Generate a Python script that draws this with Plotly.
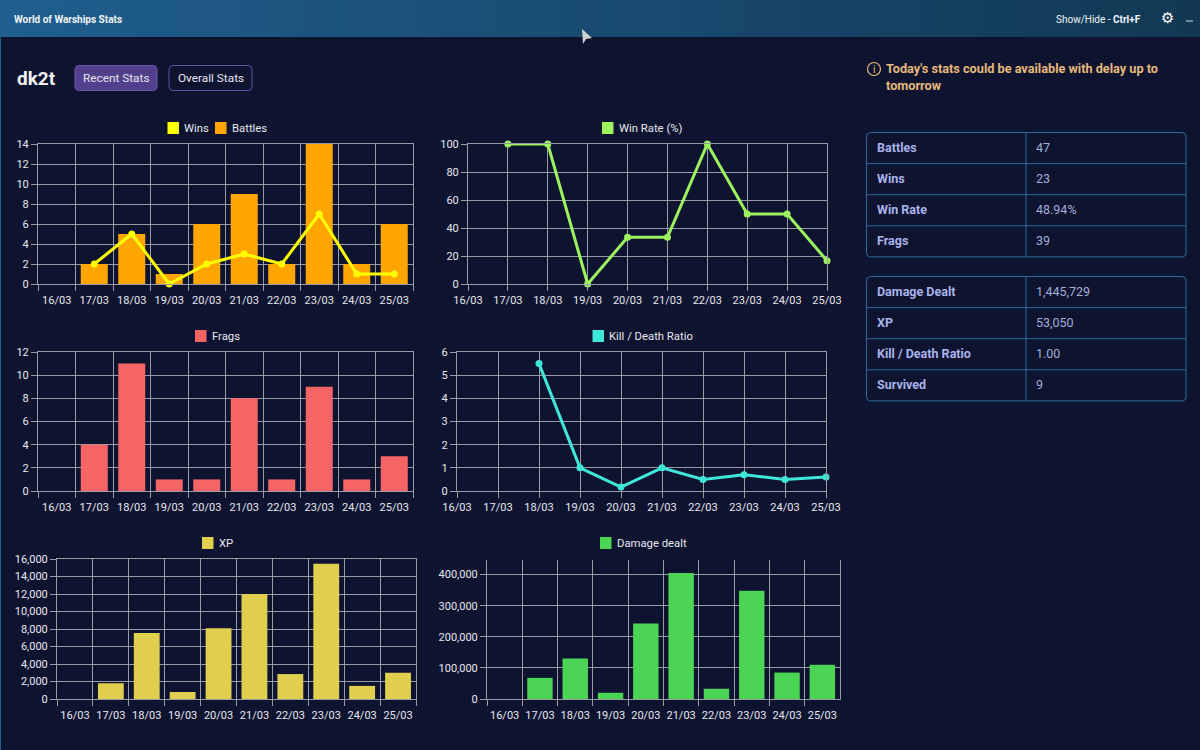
"""World of Warships stats dashboard, redrawn with Plotly."""
import plotly.graph_objects as go

days = ["16/03", "17/03", "18/03", "19/03", "20/03", "21/03", "22/03", "23/03", "24/03", "25/03"]
wins = [None, 2, 5, 0, 2, 3, 2, 7, 1, 1]
battles = [0, 2, 5, 1, 6, 9, 2, 14, 2, 6]
win_rate = [None, 100, 100, 0, 33.33, 33.33, 100, 50, 50, 16.67]
frags = [0, 4, 11, 1, 1, 8, 1, 9, 1, 3]
kd_ratio = [None, None, 5.5, 1, 0.17, 1, 0.5, 0.7, 0.5, 0.6]
xp = [0, 1800, 7550, 800, 8100, 12000, 2850, 15450, 1500, 3000]
damage = [0, 68000, 130000, 20000, 243000, 405000, 33000, 348000, 85000, 110000]

table_top = [("Battles", "47"), ("Wins", "23"), ("Win Rate", "48.94%"), ("Frags", "39")]
table_bottom = [("Damage Dealt", "1,445,729"), ("XP", "53,050"),
                ("Kill / Death Ratio", "1.00"), ("Survived", "9")]

BG = "#0e1330"
GRID = "#989aa4"
TICK_TEXT = "#e6e8ee"
UI_FONT = "Roboto, sans-serif"
TICK_SIZE = 11
W, H = 1200, 750

fig = go.Figure()
shapes = []
notes = []


def rounded(x0, y0, x1, y1, r):
    return (f"M{x0+r},{y0} L{x1-r},{y0} Q{x1},{y0} {x1},{y0+r} L{x1},{y1-r} Q{x1},{y1} {x1-r},{y1} "
            f"L{x0+r},{y1} Q{x0},{y1} {x0},{y1-r} L{x0},{y0+r} Q{x0},{y0} {x0+r},{y0} Z")


def add_shape(**kw):
    shapes.append(dict(xref="x7", yref="y7", layer="below", **kw))


def text(x, y, s, size=12, color=TICK_TEXT, anchor="left", family=UI_FONT):
    # annotations sit about 2px right of the given x because of their padding
    x = x - 2 if anchor == "left" else x
    notes.append(dict(xref="x7", yref="y7", x=x, y=y, text=s, showarrow=False, xanchor=anchor,
                      yanchor="middle", font=dict(size=size, color=color, family=family)))


def swatch(x, y, label, color):
    add_shape(type="rect", x0=x, x1=x + 11.5, y0=y - 6, y1=y + 6, fillcolor=color, line_width=0)
    text(x + 16.5, y, label, size=11.3)


def axes(n, box, y_range, dtick, x_range, fmt=None, top_line=True):
    x0, y0, x1, y1 = box
    on_bounds = x_range[0] < 0
    fig.update_layout({
        f"xaxis{n}": dict(
            domain=[x0 / W, x1 / W], anchor=f"y{n}", type="category", range=x_range,
            tickson="boundaries" if on_bounds else "labels", ticklabelstandoff=6 if on_bounds else 0,
            showgrid=True, gridcolor=GRID, gridwidth=1, ticks="outside", ticklen=6,
            tickcolor=GRID, tickfont=dict(size=TICK_SIZE, color=TICK_TEXT, family=UI_FONT),
            tickangle=0, zeroline=False, showline=True, linecolor=GRID, linewidth=1,
            mirror=top_line,
        ),
        f"yaxis{n}": dict(
            domain=[1 - y1 / H, 1 - y0 / H], anchor=f"x{n}", range=y_range, dtick=dtick,
            tick0=0, showgrid=True, gridcolor=GRID, gridwidth=1, ticks="outside", ticklen=6,
            tickcolor=GRID, tickfont=dict(size=TICK_SIZE, color=TICK_TEXT, family=UI_FONT),
            zeroline=False, showline=True, linecolor=GRID, linewidth=1, mirror=True,
            tickformat=fmt,
        ),
    })


def bars(n, values, color):
    fig.add_trace(go.Bar(x=days, y=values, marker=dict(color=color, line_width=0),
                         xaxis=f"x{n}", yaxis=f"y{n}"))


def line(n, values, color):
    fig.add_trace(go.Scatter(x=days, y=values, mode="lines+markers", cliponaxis=False,
                             line=dict(color=color, width=3), marker=dict(color=color, size=7),
                             xaxis=f"x{n}", yaxis=f"y{n}"))


# charts
BOUNDS = [-0.5, 9.5]
POINTS = [0, 9]
axes(1, (38, 144, 413, 284), [0, 14], 2, BOUNDS)
bars(1, battles, "#ffa500")
line(1, wins, "#ffff00")
swatch(167.5, 128, "Wins", "#ffff00")
swatch(215, 128, "Battles", "#ffa500")

axes(2, (468, 144, 827, 284), [0, 100], 20, POINTS)
line(2, win_rate, "#9cf25f")
swatch(602, 128, "Win Rate (%)", "#9cf25f")

axes(3, (38, 352, 413, 491), [0, 12], 2, BOUNDS)
bars(3, frags, "#f56565")
swatch(195, 336, "Frags", "#f56565")

axes(4, (457, 352, 826, 491), [0, 6], 1, POINTS)
line(4, kd_ratio, "#40e6d8")
swatch(592.5, 336, "Kill / Death Ratio", "#40e6d8")

axes(5, (57, 559, 416, 699), [0, 16000], 2000, BOUNDS, ",")
bars(5, xp, "#e0cf4e")
swatch(202, 543, "XP", "#e0cf4e")

axes(6, (487, 560, 840, 699), [0, 447000], 100000, BOUNDS, ",", top_line=False)
bars(6, damage, "#4cd455")
swatch(600, 543, "Damage dealt", "#4cd455")

# pixel-sized overlay for the surrounding app window
fig.add_trace(go.Scatter(x=[0], y=[0], mode="markers", marker_opacity=0, hoverinfo="skip",
                         xaxis="x7", yaxis="y7"))

strips = 60
for i in range(strips):
    t = i / (strips - 1)
    r = round(31 + (18 - 31) * t)
    g = round(94 + (56 - 94) * t)
    b = round(142 + (84 - 142) * t)
    add_shape(type="rect", x0=W * i / strips, x1=W * (i + 1) / strips + 1, y0=0, y1=37,
              fillcolor=f"rgb({r},{g},{b})", line_width=0)
add_shape(type="rect", x0=0, x1=1, y0=37, y1=750, fillcolor="#1f5f8e", line_width=0)

text(14, 19.5, "<b>World of Warships Stats</b>", size=10, color="#f2f5f8")
text(1056, 19.5, "Show/Hide - <b>Ctrl+F</b>", size=10, color="#f2f5f8")
text(1167, 17.5, "⚙", size=15, color="#ffffff", anchor="center", family="DejaVu Sans")
add_shape(type="line", x0=1186, x1=1193, y0=21, y1=21, line=dict(color="#c8d2da", width=1))
add_shape(type="path", path="M582,29 L592,38 L586,39 L583,44 Z", fillcolor="#cfd0d2", line_width=0)

text(17, 78, "<b>dk2t</b>", size=19, color="#f4f4f6")
add_shape(type="path", path=rounded(75, 65.5, 157, 90.5, 4), fillcolor="#52408c",
          line=dict(color="#6c5ab0", width=1))
text(116, 77.5, "Recent Stats", size=11.8, color="#e6e4f2", anchor="center")
add_shape(type="path", path=rounded(169, 65.5, 252, 90.5, 4), fillcolor=BG,
          line=dict(color="#5c52a6", width=1))
text(210.5, 77.5, "Overall Stats", size=11.8, color="#e6e4f2", anchor="center")

# info note
add_shape(type="circle", x0=867.5, x1=880.5, y0=62.5, y1=75.5, line=dict(color="#e6b87c", width=1.2))
text(874, 69, "i", size=10, color="#e6b87c", anchor="center")
text(886, 68, "<b>Today's stats could be available with delay up to</b>", size=12.7, color="#e6b87c")
text(886, 85, "<b>tomorrow</b>", size=12.7, color="#e6b87c")


def stat_table(rows, top, row_h):
    bottom = top + row_h * len(rows)
    border = dict(color="#2c6a9c", width=1)
    add_shape(type="path", path=rounded(866.5, top, 1186, bottom, 4), line=border)
    add_shape(type="line", x0=1026, x1=1026, y0=top, y1=bottom, line=border)
    for i, (label, value) in enumerate(rows):
        if i:
            add_shape(type="line", x0=866.5, x1=1186, y0=top + row_h * i, y1=top + row_h * i, line=border)
        mid = top + row_h * (i + 0.5) - 0.5
        text(877, mid, f"<b>{label}</b>", size=12.5, color="#a9b4ec")
        text(1036, mid, value, size=12.5, color="#a3aed8")


stat_table(table_top, 132.5, 31.1)
stat_table(table_bottom, 276.5, 31.1)

fig.update_layout(
    width=W, height=H, margin=dict(l=0, r=0, t=0, b=0, autoexpand=False), autosize=False,
    paper_bgcolor=BG, plot_bgcolor="rgba(0,0,0,0)", showlegend=False, barmode="overlay",
    bargap=0.28, shapes=shapes, annotations=notes,
    xaxis7=dict(domain=[0, 1], range=[0, W], visible=False, anchor="y7", fixedrange=True),
    yaxis7=dict(domain=[0, 1], range=[H, 0], visible=False, anchor="x7", fixedrange=True),
)

fig.write_html("out.html", config={"displayModeBar": False},
               post_script="document.body.style.margin='0';document.body.style.background='#0e1330';")
